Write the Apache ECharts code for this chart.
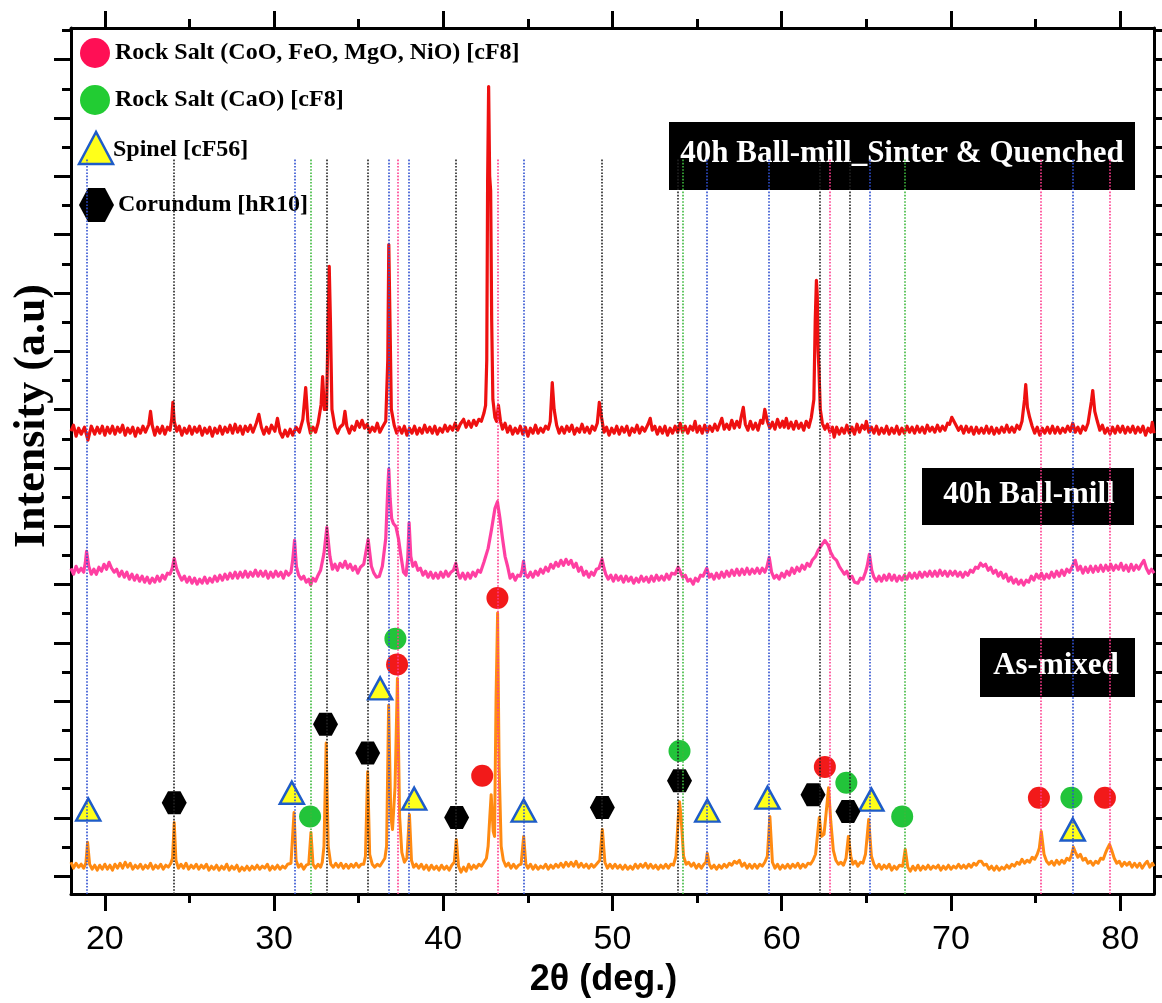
<!DOCTYPE html>
<html>
<head>
<meta charset="utf-8">
<script src="https://cdn.jsdelivr.net/npm/echarts@6/dist/echarts.min.js"></script>
<style>
html, body { margin: 0; padding: 0; background: #fff; }
#chart { width: 1162px; height: 1003px; }
</style>
</head>
<body>
<div id="chart"></div>
<script>
// 2theta axis
var xMin = 18, xMax = 82;
var xMajor = [20, 30, 40, 50, 60, 70, 80];
var xMinor = [25, 35, 45, 55, 65, 75];
// intensity axis (a.u.), patterns stacked with offsets already in the values
var yMin = -18, yMax = 854, yStep = 29.36;
var refTop = 722; // top end of the reference lines

// 40h Ball-mill_Sinter & Quenched
var sintered = [
  [18.0,448],[18.15,454],[18.3,443],[18.45,451],[18.6,445],[18.8,452],[19.0,439],[19.2,453],[19.4,445],[19.55,452],[19.7,446],[19.85,453],[20.0,444],
  [20.15,452],[20.3,446],[20.45,453],[20.6,445],[20.75,452],[20.9,447],[21.05,454],[21.2,444],[21.35,451],[21.5,446],[21.65,452],[21.8,443],[21.95,451],[22.1,446],[22.25,453],[22.4,447],[22.6,455],[22.7,468],
  [22.8,454],[22.95,444],[23.1,452],[23.25,446],[23.4,453],[23.55,445],[23.7,452],[23.85,449],[23.95,460],[24.02,477],[24.1,458],[24.25,448],[24.4,453],[24.55,444],
  [24.7,451],[24.85,446],[25.0,453],[25.15,445],[25.3,452],[25.45,447],[25.6,453],[25.75,444],[25.9,451],[26.05,446],[26.2,452],[26.35,443],[26.5,451],[26.65,446],[26.8,453],[26.95,445],[27.1,452],[27.25,447],
  [27.4,454],[27.55,446],[27.7,455],[27.85,447],[28.0,453],[28.15,445],[28.3,453],[28.45,448],[28.6,454],[28.75,447],[28.95,456],[29.1,465],[29.25,452],[29.4,445],[29.55,452],[29.7,446],[29.85,454],[30.05,448],
  [30.2,461],[30.35,447],[30.5,442],[30.65,449],[30.8,443],[30.95,450],[31.1,444],[31.3,452],[31.5,447],[31.7,460],[31.87,492],[32.0,458],[32.15,446],
  [32.3,452],[32.45,447],[32.6,456],[32.78,475],[32.87,503],[32.97,470],[33.1,470],[33.2,560],[33.26,614],[33.33,560],[33.42,470],
  [33.6,452],[33.75,446],[33.9,452],[34.08,455],[34.19,468],[34.3,453],[34.45,446],[34.6,453],[34.75,449],[34.9,458],[35.05,452],[35.2,459],[35.35,451],[35.5,455],
  [35.65,447],[35.8,452],[35.95,448],[36.1,456],[36.25,447],[36.4,452],[36.6,458],[36.72,520],[36.78,636],[36.85,560],[36.93,470],[37.1,454],[37.25,446],[37.4,452],
  [37.55,446],[37.7,453],[37.85,444],[38.0,451],[38.15,446],[38.3,453],[38.45,445],[38.6,451],[38.75,446],[38.9,454],[39.05,447],[39.2,452],[39.35,446],[39.5,453],[39.65,445],[39.8,451],[39.95,447],[40.1,454],[40.25,448],
  [40.4,453],[40.55,449],[40.7,456],[40.85,449],[41.0,455],[41.2,460],[41.35,452],[41.5,458],[41.65,452],[41.8,459],[41.95,454],[42.1,460],[42.25,458],[42.4,466],[42.5,474],[42.57,520],[42.62,700],
  [42.68,795],[42.74,705],[42.8,690],[42.86,560],[42.93,480],[43.05,462],[43.15,458],[43.26,474],[43.38,458],[43.5,450],[43.65,456],
  [43.8,447],[43.95,453],[44.1,445],[44.25,451],[44.4,446],[44.55,453],[44.7,445],[44.85,452],[45.0,443],[45.15,451],[45.3,446],[45.45,454],[45.6,446],[45.75,451],[45.9,447],[46.05,453],[46.2,450],[46.32,458],[46.44,497],
  [46.55,470],[46.7,454],[46.85,446],[47.0,452],[47.15,446],[47.3,453],[47.45,448],[47.6,454],[47.75,445],[47.9,451],[48.05,447],[48.2,455],[48.35,447],[48.5,452],[48.65,446],[48.8,453],[48.95,449],[49.1,456],
  [49.22,477],[49.35,462],[49.5,447],[49.65,452],[49.8,444],[49.95,451],[50.1,446],[50.25,453],[50.4,445],[50.55,452],[50.7,447],[50.85,453],[51.0,444],[51.15,451],[51.3,447],[51.45,454],[51.6,446],
  [51.75,452],[51.9,448],[52.1,455],[52.23,461],[52.35,449],[52.5,453],[52.65,445],[52.8,452],[52.95,446],[53.1,453],[53.25,444],[53.4,451],[53.55,446],[53.7,453],[53.85,447],[54.0,456],[54.15,447],[54.3,453],[54.45,446],[54.6,453],
  [54.75,449],[54.88,458],[55.0,447],[55.15,453],[55.3,446],[55.45,454],[55.6,447],[55.75,453],[55.9,448],[56.05,455],[56.2,449],[56.35,456],[56.46,461],[56.6,450],[56.75,455],[56.9,450],[57.05,459],[57.2,451],[57.35,458],
  [57.5,452],[57.6,462],[57.73,472],[57.85,455],[58.0,449],[58.15,458],[58.3,450],[58.45,456],[58.6,449],[58.75,459],[58.88,456],[59.0,470],[59.15,458],[59.3,451],[59.45,457],[59.6,450],[59.75,460],[59.9,452],
  [60.05,458],[60.15,452],[60.27,461],[60.4,451],[60.55,457],[60.7,450],[60.85,458],[61.0,451],[61.15,456],[61.3,449],[61.45,458],[61.6,452],[61.75,462],[61.9,480],[61.98,560],[62.05,600],
  [62.1,585],[62.15,530],[62.2,510],[62.28,470],[62.4,456],[62.55,450],[62.7,455],[62.85,447],[63.0,452],[63.1,442],[63.25,452],[63.4,445],[63.55,451],[63.7,446],
  [63.85,454],[64.0,446],[64.15,452],[64.3,445],[64.45,455],[64.6,447],[64.75,454],[64.9,450],[65.0,458],[65.15,447],[65.3,452],[65.45,446],[65.6,453],[65.75,445],[65.9,451],[66.05,446],[66.2,453],[66.35,445],[66.5,451],
  [66.65,446],[66.8,453],[66.95,445],[67.1,451],[67.25,446],[67.4,453],[67.55,447],[67.7,452],[67.85,446],[68.0,453],[68.15,447],[68.3,452],[68.45,446],[68.6,454],[68.75,448],[68.9,452],[69.05,447],[69.2,454],[69.35,448],[69.5,453],
  [69.65,449],[69.8,456],[69.92,455],[70.05,462],[70.15,464],[70.3,454],[70.45,449],[70.6,453],[70.75,446],[70.9,453],[71.05,447],[71.2,452],[71.35,445],[71.5,452],[71.65,446],[71.8,451],[71.95,446],[72.1,453],
  [72.25,446],[72.4,452],[72.55,445],[72.7,451],[72.85,446],[73.0,452],[73.15,447],[73.3,454],[73.45,447],[73.6,452],[73.75,447],[73.9,454],[74.05,450],[74.2,458],[74.35,480],[74.42,495],[74.52,472],
  [74.65,462],[74.8,453],[74.95,446],[75.1,452],[75.25,444],[75.4,451],[75.55,446],[75.7,452],[75.85,446],[76.0,453],[76.15,446],[76.3,452],[76.45,446],[76.6,451],[76.75,447],[76.9,453],[77.05,448],[77.2,456],
  [77.35,447],[77.5,452],[77.65,446],[77.8,453],[77.95,449],[78.1,456],[78.3,478],[78.38,489],[78.5,468],[78.65,458],[78.8,449],[78.95,454],[79.1,446],[79.25,451],[79.4,445],[79.55,452],
  [79.7,446],[79.85,453],[80.0,447],[80.15,453],[80.3,446],[80.45,452],[80.6,447],[80.75,453],[80.9,446],[81.05,452],[81.2,447],[81.35,453],[81.5,444],[81.65,451],[81.8,447],[81.9,457],[82.0,446]
];

// 40h Ball-mill
var milled = [
  [18.0,310],[18.15,304],[18.3,312],[18.45,306],[18.6,310],[18.75,306],[18.85,316],[18.92,327],[19.05,312],[19.2,304],[19.35,309],[19.5,304],[19.65,311],[19.8,307],[19.95,314],
  [20.1,309],[20.25,316],[20.4,310],[20.55,306],[20.7,309],[20.85,302],[21.0,307],[21.15,301],[21.3,306],[21.45,299],[21.6,304],[21.75,298],[21.9,303],[22.05,297],[22.2,302],[22.35,296],[22.5,301],[22.65,295],
  [22.8,300],[22.95,296],[23.1,302],[23.25,297],[23.4,303],[23.55,299],[23.7,305],[23.85,304],[23.98,310],[24.1,320],[24.25,309],[24.4,303],[24.55,298],[24.7,302],[24.85,296],[25.0,301],[25.15,295],[25.3,300],[25.45,294],
  [25.6,299],[25.75,295],[25.9,301],[26.05,295],[26.2,300],[26.35,296],[26.5,302],[26.65,297],[26.8,303],[26.95,298],[27.1,304],[27.25,299],[27.4,305],[27.55,300],[27.7,306],[27.85,300],[28.0,306],[28.15,301],
  [28.3,307],[28.45,301],[28.6,306],[28.75,302],[28.9,308],[29.05,302],[29.2,307],[29.35,302],[29.5,307],[29.65,300],[29.8,306],[29.95,301],[30.1,307],[30.25,302],[30.4,306],[30.55,300],[30.7,307],[30.85,303],[31.0,306],[31.1,318],[31.21,338],
  [31.32,312],[31.45,303],[31.6,299],[31.75,302],[31.9,296],[32.05,299],[32.16,293],[32.3,300],[32.45,297],[32.6,303],[32.75,308],[32.95,325],[33.12,351],[33.3,322],[33.45,309],[33.6,314],
  [33.75,308],[33.9,315],[34.05,311],[34.2,317],[34.35,310],[34.5,314],[34.65,308],[34.8,312],[34.95,305],[35.1,311],[35.3,314],[35.56,339],[35.75,312],[35.9,305],[36.05,301],[36.22,302],
  [36.4,312],[36.6,340],[36.72,390],[36.78,410],[36.86,380],[36.95,360],[37.05,355],[37.2,352],[37.35,340],[37.5,322],
  [37.65,306],[37.8,303],[37.9,320],[37.98,356],[38.08,322],[38.2,312],[38.35,316],[38.5,308],[38.65,310],[38.8,303],[38.95,307],[39.1,301],[39.25,306],[39.4,300],[39.55,305],[39.7,300],[39.85,306],
  [40.0,301],[40.15,307],[40.3,302],[40.45,306],[40.6,308],[40.74,315],[40.88,304],[41.0,300],[41.15,305],[41.3,299],[41.45,305],[41.6,300],[41.75,306],[41.9,302],[42.05,308],[42.2,306],[42.4,316],[42.65,330],
  [42.85,349],[43.05,370],[43.2,377],[43.35,360],[43.5,340],[43.65,322],[43.8,312],[43.95,300],[44.1,304],[44.25,298],[44.4,303],[44.55,302],[44.66,308],[44.74,317],
  [44.85,304],[45.0,301],[45.15,306],[45.3,301],[45.45,307],[45.6,303],[45.75,309],[45.9,305],[46.05,311],[46.2,307],[46.35,314],[46.5,310],[46.65,316],[46.8,312],[46.95,318],[47.1,313],[47.25,319],[47.4,314],[47.55,318],
  [47.7,311],[47.85,315],[48.0,307],[48.15,311],[48.3,303],[48.45,307],[48.6,301],[48.75,306],[48.9,303],[49.05,309],[49.2,310],[49.38,319],[49.5,310],[49.6,304],[49.75,299],[49.9,303],[50.05,297],[50.2,303],[50.35,298],
  [50.5,302],[50.65,296],[50.8,302],[50.95,297],[51.1,301],[51.25,295],[51.4,300],[51.55,296],[51.7,302],[51.85,297],[52.0,301],[52.15,296],[52.3,302],[52.45,297],[52.6,303],[52.75,298],[52.9,302],[53.05,298],[53.2,304],
  [53.35,299],[53.5,305],[53.7,304],[53.88,311],[54.02,306],[54.15,301],[54.3,303],[54.45,297],[54.6,299],[54.77,294],[54.9,300],[55.05,297],[55.2,303],[55.35,302],[55.57,310],[55.72,301],[55.85,304],[56.0,299],
  [56.15,305],[56.3,300],[56.45,306],[56.6,301],[56.75,307],[56.9,302],[57.05,308],[57.2,303],[57.35,309],[57.5,303],[57.65,309],[57.8,304],[57.95,310],[58.1,304],[58.25,309],[58.4,305],[58.55,310],[58.7,305],[58.85,310],
  [59.0,306],[59.12,311],[59.26,321],[59.4,306],[59.55,300],[59.7,303],[59.85,299],[60.0,305],[60.15,301],[60.3,307],[60.45,303],[60.6,310],[60.75,305],[60.9,311],[61.05,307],[61.2,313],[61.35,309],[61.5,315],
  [61.65,312],[61.8,318],[62.0,322],[62.15,328],[62.35,333],[62.55,338],[62.75,333],[62.9,326],[63.05,321],[63.24,318],[63.4,312],[63.55,308],
  [63.7,304],[63.85,307],[64.0,300],[64.15,302],[64.3,296],[64.5,295],[64.65,300],[64.8,299],[64.95,306],[65.05,312],[65.18,324],[65.32,308],[65.45,301],[65.6,297],[65.75,302],[65.9,297],[66.05,303],[66.2,298],[66.35,304],
  [66.5,298],[66.65,303],[66.8,297],[66.95,302],[67.1,298],[67.25,303],[67.4,299],[67.55,305],[67.7,300],[67.85,305],[68.0,300],[68.15,306],[68.3,301],[68.45,306],[68.6,302],[68.75,307],[68.9,302],[69.05,307],
  [69.2,302],[69.35,308],[69.5,303],[69.65,307],[69.8,302],[69.95,307],[70.1,303],[70.25,307],[70.4,302],[70.55,306],[70.7,301],[70.85,306],[71.0,303],[71.15,308],[71.3,306],[71.45,311],[71.6,310],[71.75,315],
  [71.9,312],[72.05,314],[72.2,308],[72.35,311],[72.5,305],[72.65,308],[72.8,302],[72.95,306],[73.1,300],[73.25,304],[73.4,297],[73.55,301],[73.7,295],[73.85,299],[74.0,294],[74.15,298],[74.3,293],[74.45,298],
  [74.6,296],[74.75,302],[74.9,298],[75.05,304],[75.2,300],[75.35,305],[75.5,299],[75.65,304],[75.8,300],[75.95,306],[76.1,301],[76.25,307],[76.4,302],[76.55,308],[76.7,303],[76.85,309],[77.0,306],[77.15,311],
  [77.35,318],[77.5,308],[77.65,312],[77.8,305],[77.95,311],[78.1,306],[78.25,312],[78.4,306],[78.55,312],[78.7,307],[78.85,313],[79.0,307],[79.15,313],[79.3,308],[79.45,314],[79.6,308],[79.75,313],
  [79.9,309],[80.05,315],[80.2,308],[80.35,313],[80.5,307],[80.65,314],[80.8,308],[80.95,313],[81.1,309],[81.25,314],[81.4,318],[81.55,310],[81.7,305],[81.85,309],[82.0,305]
];

// As-mixed
var asMixed = [
  [18.0,14],[18.15,8],[18.3,13],[18.45,9],[18.6,12],[18.75,8],[18.88,13],[18.98,34],[19.1,12],[19.25,7],[19.4,11],[19.55,6],[19.7,11],[19.85,7],[20.0,12],
  [20.15,7],[20.3,11],[20.45,6],[20.6,12],[20.75,8],[20.9,13],[21.05,8],[21.2,14],[21.35,9],[21.5,13],[21.65,7],[21.8,11],[21.95,8],[22.1,12],[22.25,7],[22.4,11],[22.55,8],[22.7,13],[22.85,7],
  [23.0,11],[23.15,8],[23.3,12],[23.45,7],[23.6,11],[23.75,9],[23.9,13],[24.0,18],[24.1,54],[24.2,16],[24.35,8],[24.5,12],[24.65,8],[24.8,13],[24.95,7],[25.1,11],[25.25,8],[25.4,12],[25.55,7],
  [25.7,11],[25.85,8],[26.0,12],[26.15,6],[26.3,10],[26.45,7],[26.6,11],[26.75,6],[26.9,10],[27.05,7],[27.2,12],[27.35,6],[27.5,10],[27.65,7],[27.8,11],[27.95,5],[28.1,9],[28.25,6],[28.4,10],
  [28.55,6],[28.7,10],[28.85,7],[29.0,11],[29.15,7],[29.3,10],[29.45,8],[29.6,12],[29.75,6],[29.9,10],[30.05,7],[30.2,11],[30.35,7],[30.5,10],[30.65,8],[30.8,12],[31.0,13],[31.18,64],
  [31.3,16],[31.45,9],[31.6,12],[31.75,7],[31.9,11],[32.05,12],[32.18,44],[32.3,12],[32.45,8],[32.6,12],[32.75,9],[32.85,14],[32.95,30],[33.08,134],
  [33.2,30],[33.35,12],[33.5,9],[33.65,13],[33.8,9],[33.95,13],[34.1,8],[34.25,12],[34.4,8],[34.55,12],[34.7,9],[34.85,13],[35.0,9],[35.15,12],[35.3,12],[35.4,20],[35.53,105],
  [35.65,22],[35.8,12],[35.95,9],[36.1,12],[36.25,10],[36.4,14],[36.55,18],[36.65,30],[36.77,172],[36.9,60],[37.0,47],[37.15,90],[37.29,199],
  [37.42,60],[37.55,24],[37.7,14],[37.85,18],[38.0,62],[38.12,16],[38.25,9],[38.4,12],[38.55,8],[38.7,12],[38.85,7],[39.0,11],[39.15,6],[39.3,11],[39.45,7],[39.6,10],
  [39.75,6],[39.9,11],[40.05,7],[40.2,10],[40.35,6],[40.5,11],[40.65,14],[40.77,37],[40.9,10],[41.05,4],[41.2,9],[41.35,5],[41.5,12],[41.65,7],[41.8,11],[41.95,8],
  [42.1,12],[42.25,10],[42.4,14],[42.55,18],[42.65,30],[42.75,60],[42.83,82],[42.95,45],[43.03,40],[43.12,180],[43.21,265],[43.3,110],[43.42,30],
  [43.55,16],[43.7,10],[43.85,13],[44.0,8],[44.15,12],[44.3,8],[44.45,11],[44.6,12],[44.75,40],[44.88,12],[45.0,8],[45.15,12],[45.3,7],[45.45,11],[45.6,7],[45.75,10],
  [45.9,8],[46.05,12],[46.2,7],[46.35,11],[46.5,8],[46.65,12],[46.8,9],[46.95,13],[47.1,9],[47.25,14],[47.4,10],[47.55,14],[47.7,10],[47.85,15],[48.0,9],[48.15,13],[48.3,9],[48.45,12],[48.6,8],
  [48.75,12],[48.9,9],[49.05,12],[49.25,16],[49.4,47],[49.55,14],[49.7,8],[49.85,12],[50.0,8],[50.15,12],[50.3,8],[50.45,11],[50.6,7],[50.75,11],[50.9,7],[51.05,10],[51.2,7],[51.35,12],
  [51.5,8],[51.65,12],[51.8,9],[51.95,13],[52.1,8],[52.25,12],[52.4,8],[52.55,11],[52.7,7],[52.85,11],[53.0,8],[53.15,12],[53.3,8],[53.45,12],[53.6,11],[53.75,20],[53.88,57],[53.96,75],
  [54.05,60],[54.2,20],[54.35,12],[54.5,14],[54.65,10],[54.8,13],[54.95,8],[55.1,12],[55.25,8],[55.4,12],[55.52,14],[55.6,23],[55.72,12],[55.85,8],[56.0,11],[56.15,7],[56.3,11],[56.45,8],
  [56.6,12],[56.75,9],[56.9,13],[57.05,11],[57.2,15],[57.35,13],[57.5,16],[57.65,10],[57.8,13],[57.95,8],[58.1,12],[58.25,8],[58.4,12],[58.55,8],[58.7,12],[58.85,10],[59.0,14],[59.15,20],[59.3,60],
  [59.45,14],[59.6,8],[59.75,12],[59.9,7],[60.05,11],[60.2,8],[60.35,12],[60.5,8],[60.65,12],[60.8,9],[60.95,13],[61.1,8],[61.25,12],[61.4,9],[61.55,13],[61.7,12],[61.85,16],[62.0,22],
  [62.22,59],[62.35,40],[62.5,42],[62.77,89],[62.9,55],[63.05,26],[63.2,16],[63.35,12],[63.5,14],[63.65,11],[63.8,18],[63.94,40],[64.08,20],[64.2,12],
  [64.35,15],[64.5,10],[64.65,14],[64.8,13],[64.95,22],[65.14,57],[65.3,20],[65.45,12],[65.6,8],[65.75,12],[65.9,7],[66.05,11],[66.2,8],[66.35,12],[66.5,6],[66.65,10],[66.8,7],[66.95,11],
  [67.15,10],[67.3,27],[67.45,9],[67.6,5],[67.75,10],[67.9,6],[68.05,11],[68.2,6],[68.35,10],[68.5,7],[68.65,11],[68.8,7],[68.95,10],[69.1,8],[69.25,11],[69.4,6],[69.55,10],
  [69.7,7],[69.85,11],[70.0,7],[70.15,10],[70.3,8],[70.45,12],[70.6,8],[70.75,11],[70.9,8],[71.05,12],[71.2,9],[71.35,13],[71.5,11],[71.65,15],[71.8,15],[71.95,11],[72.1,12],[72.25,7],[72.4,10],
  [72.55,6],[72.7,10],[72.85,6],[73.0,9],[73.15,7],[73.3,11],[73.45,8],[73.6,12],[73.75,10],[73.9,14],[74.05,12],[74.2,17],[74.35,13],[74.5,16],[74.65,14],[74.8,19],[74.95,17],[75.1,22],[75.22,28],[75.34,45],
  [75.5,22],[75.65,15],[75.8,12],[75.95,15],[76.1,11],[76.25,16],[76.4,12],[76.55,16],[76.7,13],[76.85,18],[77.0,16],[77.12,21],[77.24,29],[77.36,24],[77.5,19],[77.65,22],[77.8,16],[77.95,18],
  [78.1,13],[78.25,15],[78.4,11],[78.55,15],[78.7,13],[78.85,18],[79.0,17],[79.15,24],[79.25,28],[79.37,32],[79.5,26],[79.65,18],[79.8,13],[79.95,15],[80.1,10],[80.25,14],[80.4,11],
  [80.55,14],[80.7,9],[80.85,13],[81.0,9],[81.15,13],[81.3,8],[81.45,12],[81.6,15],[81.75,9],[81.9,13],[82.0,10]
];

// reference line positions (2theta) per phase
var linesSpinel = [18.96, 31.21, 36.78, 37.98, 44.74, 55.57, 59.26, 65.18, 77.21];
var linesCorundum = [24.06, 33.12, 35.56, 40.74, 49.38, 53.88, 62.27, 64.01];
var linesCaO = [32.16, 54.13, 67.26];
var linesRockSalt = [37.30, 43.21, 62.82, 75.32, 79.37];

// phase markers on the as-mixed pattern
var markSpinel = [[19.02,67],[31.05,84],[36.27,189],[38.28,78],[44.75,66],[55.6,66],[59.16,79],[65.3,77],[77.2,47]];
var markCorundum = [[24.1,74],[33.04,153],[35.53,124],[40.79,59],[49.4,69],[53.96,96],[61.85,82],[63.91,65]];
var markRockSalt = [[37.27,213],[42.3,101],[43.2,280],[62.55,110],[75.2,79],[79.1,79]];
var markCaO = [[32.13,60],[37.17,239],[53.96,126],[63.82,94],[67.12,60],[77.12,79]];

var yMajor = [], yMinor = [];
for (var k = 0; k * yStep <= yMax; k++) {
  (k % 2 === 0 ? yMajor : yMinor).push(+(k * yStep).toFixed(2));
}

var hexPath = 'path://M0,5 L3,0 L9,0 L12,5 L9,10 L3,10 Z';

function refLines(xs, color) {
  return {
    type: 'line',
    data: [],
    markLine: {
      silent: true,
      symbol: ['none', 'none'],
      label: { show: false },
      lineStyle: { color: color, type: 'dotted', width: 1.6 },
      data: xs.map(function (x) { return [{ coord: [x, yMin] }, { coord: [x, refTop] }]; })
    }
  };
}

function pattern(data, color, width) {
  return {
    type: 'line', data: data, showSymbol: false, z: 2,
    lineStyle: { color: color, width: width, join: 'round' }, itemStyle: { color: color }
  };
}

function marks(data, symbol, size, fill, border) {
  return {
    type: 'scatter', data: data, symbol: symbol, symbolSize: size, z: 3,
    itemStyle: { color: fill, borderColor: border || fill, borderWidth: border ? 2.5 : 0, opacity: 1 }
  };
}

function xAx(pos, ticks, len, main) {
  return {
    type: 'value', position: pos, min: xMin, max: xMax,
    axisLine: { show: main, onZero: false, lineStyle: { color: '#000', width: 3 } },
    axisTick: { show: true, customValues: ticks, length: len, lineStyle: { color: '#000', width: 3 } },
    axisLabel: { show: false }, splitLine: { show: false }
  };
}
function yAx(pos, ticks, len, main) {
  return {
    type: 'value', position: pos, min: yMin, max: yMax,
    axisLine: { show: main, onZero: false, lineStyle: { color: '#000', width: 3 } },
    axisTick: { show: true, customValues: ticks, length: len, lineStyle: { color: '#000', width: 3 } },
    axisLabel: { show: false }, splitLine: { show: false }
  };
}

var xBottom = xAx('bottom', xMajor, 17, true);
xBottom.axisLabel = {
  show: true, customValues: xMajor, margin: 29,
  fontFamily: 'Liberation Sans', fontSize: 34, color: '#000'
};
xBottom.name = '2\u03b8 (deg.)';
xBottom.nameLocation = 'middle';
xBottom.nameGap = 68;
xBottom.nameTextStyle = {
  fontFamily: 'Liberation Sans', fontWeight: 'bold', fontSize: 36, color: '#000',
  padding: [0, 18, 0, 0]
};

var serif = '"Liberation Serif", "Times New Roman", serif';

var chart = echarts.init(document.getElementById('chart'));
chart.setOption({
  animation: false,
  backgroundColor: '#fff',
  grid: { left: 71, right: 8, top: 28, bottom: 103 },
  xAxis: [
    xBottom,
    xAx('bottom', xMinor, 9, false),
    xAx('top', xMajor, 17, true),
    xAx('top', xMinor, 9, false)
  ],
  yAxis: [
    yAx('left', yMajor, 17, true),
    yAx('left', yMinor, 9, false),
    yAx('right', yMajor, 17, true),
    yAx('right', yMinor, 9, false)
  ],
  series: [
    pattern(sintered, '#ee1010', 3.2),
    pattern(milled, '#ff3fa2', 3.2),
    pattern(asMixed, '#ff8a12', 3),
    marks(markSpinel, 'triangle', [24, 22], '#ffff1a', '#1e5cc8'),
    marks(markCorundum, hexPath, [25, 23], '#000'),
    marks(markRockSalt, 'circle', 22, '#f21a1a'),
    marks(markCaO, 'circle', 22, '#22c43a'),
    refLines(linesSpinel, '#2e4fd0'),
    refLines(linesCorundum, '#222'),
    refLines(linesCaO, '#3cb83c'),
    refLines(linesRockSalt, '#ff3a8c')
  ],
  graphic: [
    // legend
    { type: 'circle', shape: { cx: 95, cy: 53, r: 15 }, style: { fill: '#ff0f55' } },
    { type: 'text', x: 115, y: 53, style: { text: 'Rock Salt (CoO, FeO, MgO, NiO) [cF8]', font: 'bold 24px ' + serif, fill: '#000', textVerticalAlign: 'middle' } },
    { type: 'circle', shape: { cx: 95, cy: 100, r: 15 }, style: { fill: '#22cc33' } },
    { type: 'text', x: 115, y: 100, style: { text: 'Rock Salt (CaO) [cF8]', font: 'bold 24px ' + serif, fill: '#000', textVerticalAlign: 'middle' } },
    { type: 'polygon', shape: { points: [[96, 132], [79, 164], [113, 164]] }, style: { fill: '#ffff1a', stroke: '#1e5cc8', lineWidth: 2.5 } },
    { type: 'text', x: 113, y: 150, style: { text: 'Spinel [cF56]', font: 'bold 24px ' + serif, fill: '#000', textVerticalAlign: 'middle' } },
    { type: 'polygon', shape: { points: [[79, 205], [88, 188], [105, 188], [114, 205], [105, 222], [88, 222]] }, style: { fill: '#000' } },
    { type: 'text', x: 118, y: 205, style: { text: 'Corundum [hR10]', font: 'bold 24px ' + serif, fill: '#000', textVerticalAlign: 'middle' } },
    // sample labels
    { type: 'rect', shape: { x: 669, y: 122, width: 466, height: 68 }, style: { fill: '#000' } },
    { type: 'text', x: 902, y: 154, style: { text: '40h Ball-mill_Sinter & Quenched', font: 'bold 31px ' + serif, fill: '#fff', textAlign: 'center', textVerticalAlign: 'middle' } },
    { type: 'rect', shape: { x: 922, y: 468, width: 212, height: 57 }, style: { fill: '#000' } },
    { type: 'text', x: 1029, y: 495, style: { text: '40h Ball-mill', font: 'bold 31px ' + serif, fill: '#fff', textAlign: 'center', textVerticalAlign: 'middle' } },
    { type: 'rect', shape: { x: 980, y: 638, width: 155, height: 59 }, style: { fill: '#000' } },
    { type: 'text', x: 1056, y: 666, style: { text: 'As-mixed', font: 'bold 31px ' + serif, fill: '#fff', textAlign: 'center', textVerticalAlign: 'middle' } },
    // y axis title
    { type: 'text', x: 33, y: 416, rotation: Math.PI / 2, style: { text: 'Intensity (a.u)', font: 'bold 44px ' + serif, fill: '#000', textAlign: 'center', textVerticalAlign: 'middle' } }
  ]
});
</script>
</body>
</html>
